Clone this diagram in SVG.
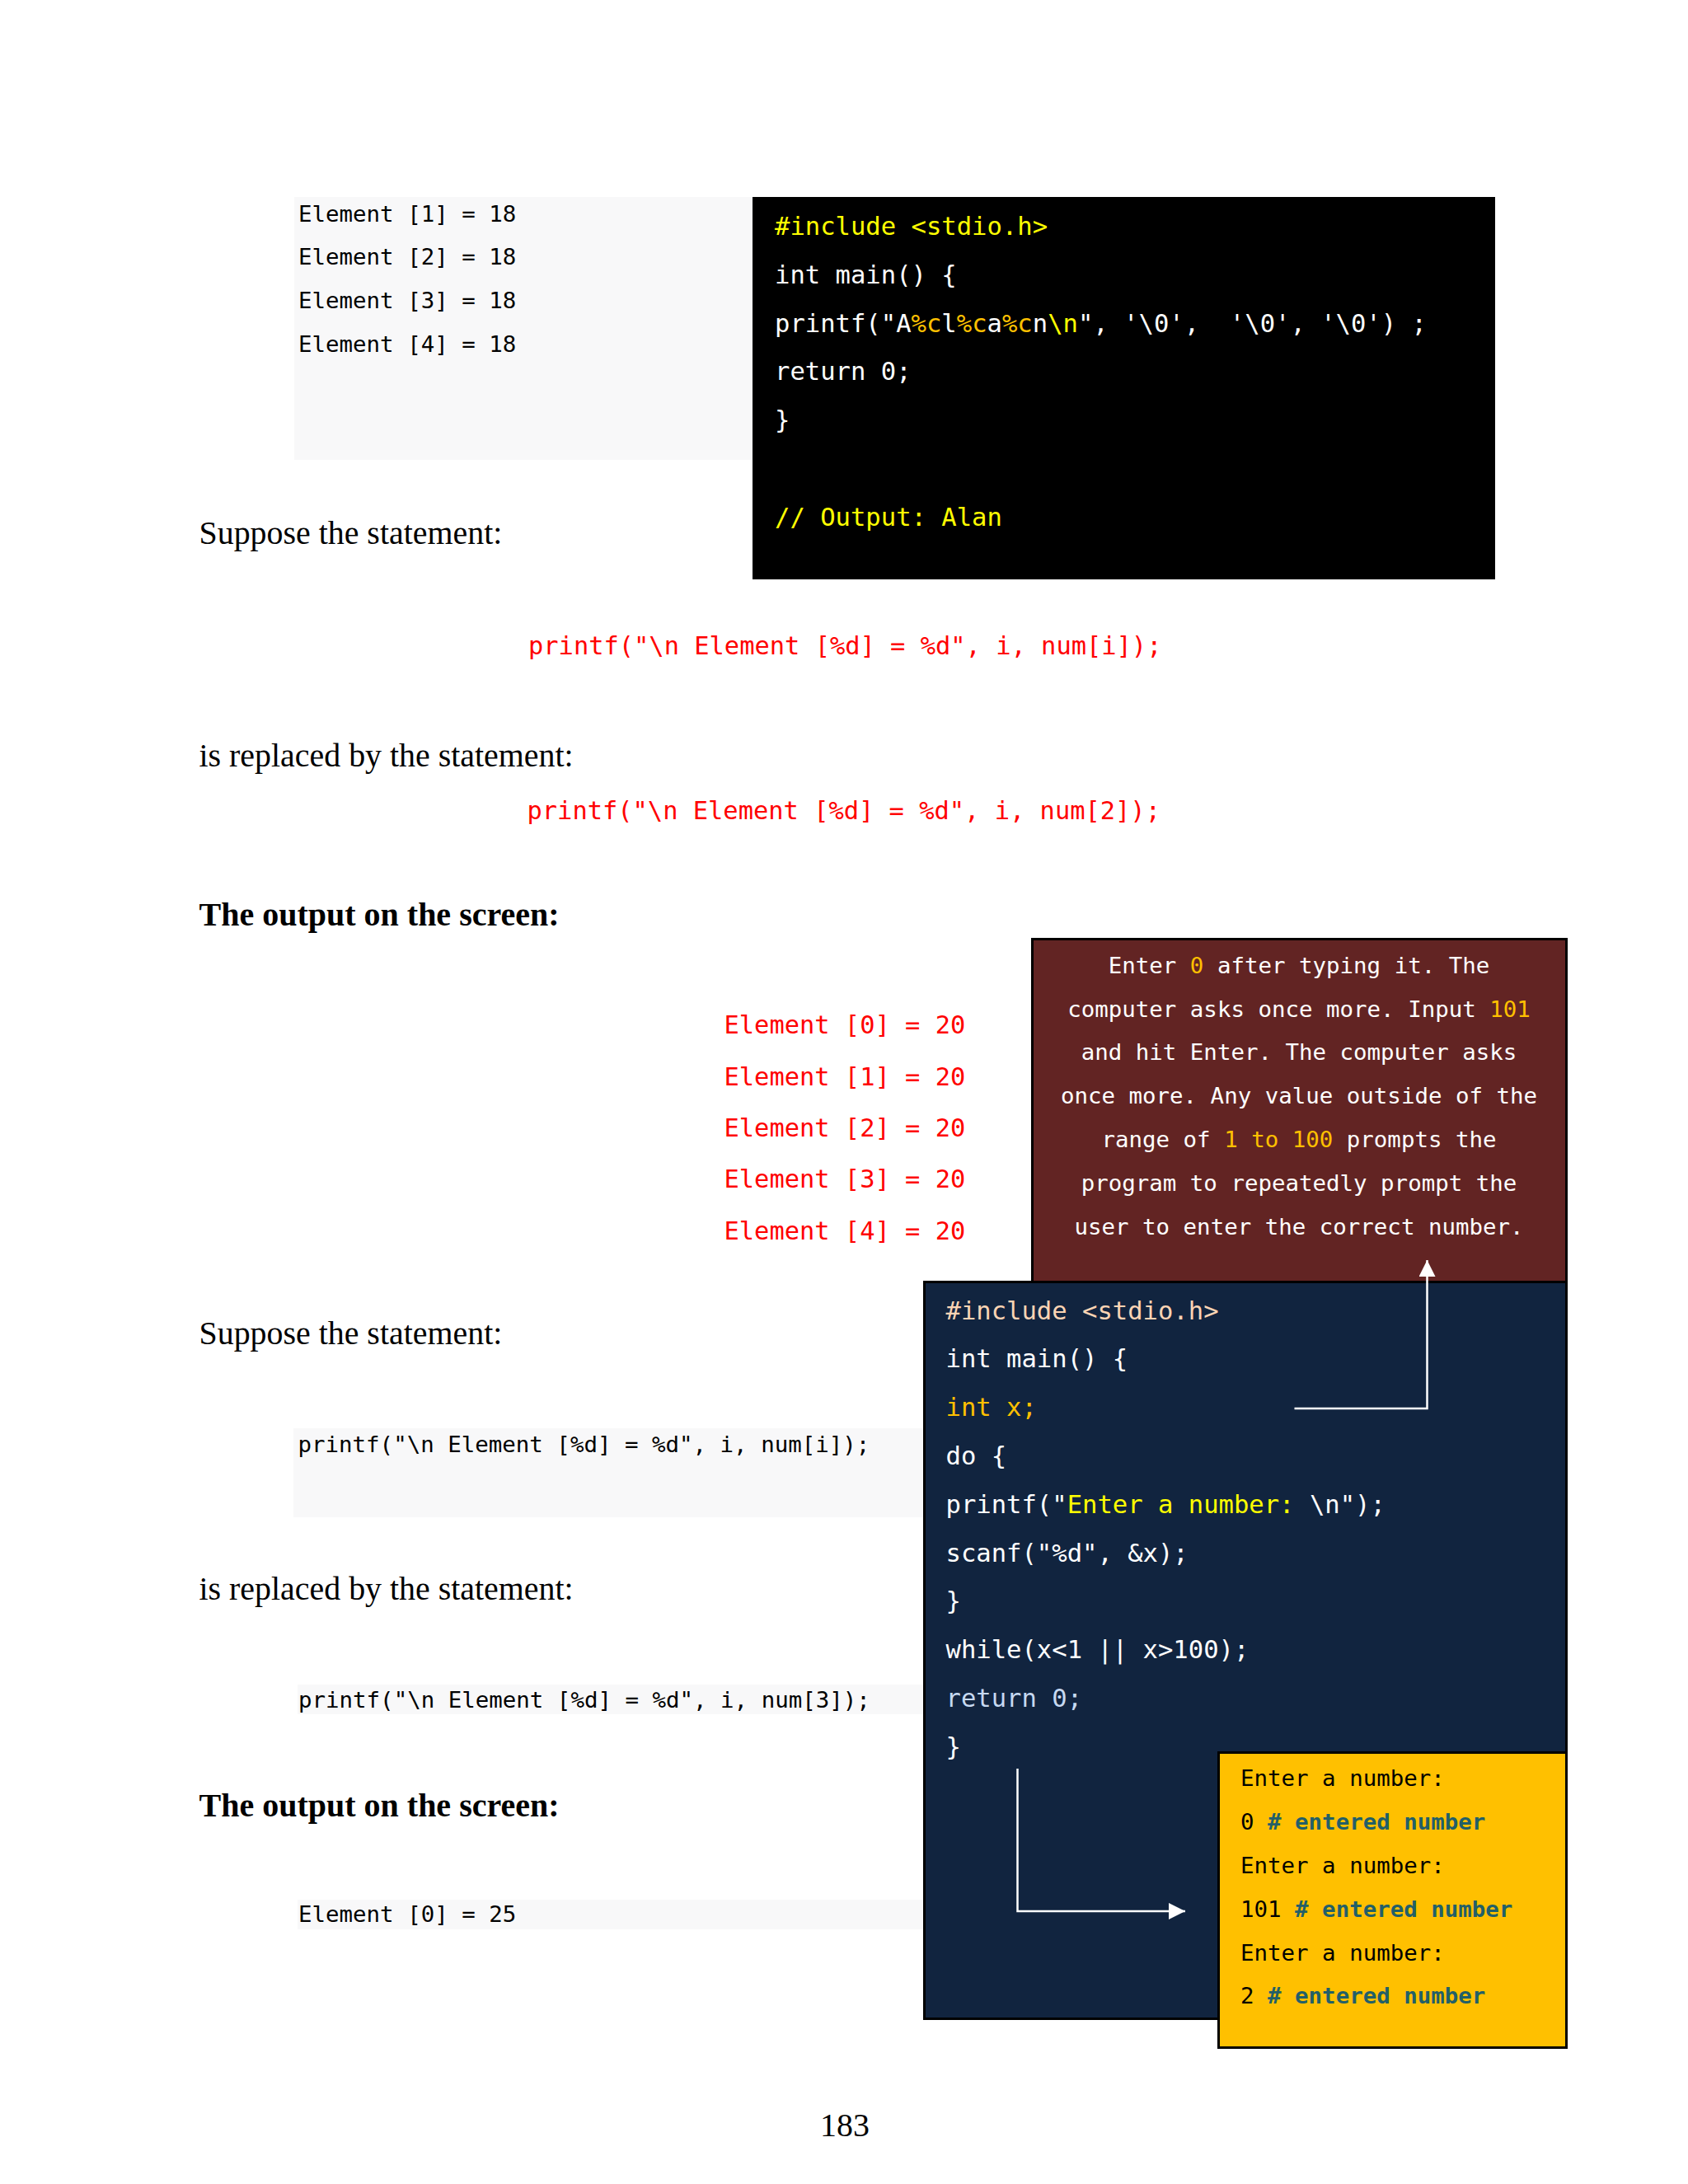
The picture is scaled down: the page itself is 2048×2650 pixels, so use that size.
<svg xmlns="http://www.w3.org/2000/svg" width="2048" height="2650" viewBox="0 0 2048 2650">
<style>
text{white-space:pre}
.s{font-family:"Liberation Serif","Times New Roman",serif;font-size:39.9px;fill:#000}
.b{font-weight:bold;font-size:40px}
.m{font-family:"DejaVu Sans Mono","Liberation Mono",monospace;font-size:27.45px}
.l{font-family:"DejaVu Sans Mono","Liberation Mono",monospace;font-size:30.4px}
.n{font-size:30.55px}
.k{fill:#000}.w{fill:#fff}.y{fill:#ff0}.o{fill:#ffc000}.r{fill:#f00}.p{fill:#fbd4b4}.c{fill:#c6d9f1}.t{fill:#235f68;font-weight:bold}
.g{fill:#f8f8f9}
.box{stroke:#000;stroke-width:3}
.a{fill:none;stroke:#fff;stroke-width:2.5}
</style>
<defs>
<marker id="ah" markerUnits="userSpaceOnUse" markerWidth="20" markerHeight="20" refX="20" refY="10" orient="auto"><path d="M0 0L20 10L0 20Z" fill="#fff"/></marker>
</defs>
<rect width="2048" height="2650" fill="#fff"/>
<g id="output-18">
<rect class="g" x="357" y="239" width="556" height="319"/>
<text class="m k" x="362" y="269">Element [1] = 18</text>
<text class="m k" x="362" y="321">Element [2] = 18</text>
<text class="m k" x="362" y="374">Element [3] = 18</text>
<text class="m k" x="362" y="427">Element [4] = 18</text>
</g>
<g id="code-alan">
<rect x="913" y="239" width="901" height="464" fill="#000"/>
<text class="l n y" x="940" y="285">#include &lt;stdio.h&gt;</text>
<text class="l n w" x="940" y="344">int main() {</text>
<text class="l n w" x="940" y="403">printf("A<tspan class="o">%c</tspan>l<tspan class="o">%c</tspan>a<tspan class="o">%c</tspan>n<tspan class="y">\n</tspan>", '\0',  '\0', '\0') ;</text>
<text class="l n w" x="940" y="461">return 0;</text>
<text class="l n w" x="940" y="520">}</text>
<text class="l n y" x="940" y="638">// Output: Alan</text>
</g>
<g id="text-1">
<text class="s" x="241.5" y="660">Suppose the statement:</text>
<text class="l r" x="641" y="794">printf("\n Element [%d] = %d", i, num[i]);</text>
<text class="s" x="241.5" y="930">is replaced by the statement:</text>
<text class="l r" x="639.5" y="994">printf("\n Element [%d] = %d", i, num[2]);</text>
<text class="s b" x="241.5" y="1123">The output on the screen:</text>
</g>
<g id="output-20">
<text class="l r" x="878.5" y="1254">Element [0] = 20</text>
<text class="l r" x="878.5" y="1317">Element [1] = 20</text>
<text class="l r" x="878.5" y="1379">Element [2] = 20</text>
<text class="l r" x="878.5" y="1441">Element [3] = 20</text>
<text class="l r" x="878.5" y="1504">Element [4] = 20</text>
</g>
<g id="text-2">
<text class="s" x="241.5" y="1631">Suppose the statement:</text>
<rect class="g" x="356" y="1733" width="765" height="108"/>
<text class="m k" x="361.5" y="1762">printf("\n Element [%d] = %d", i, num[i]);</text>
<text class="s" x="241.5" y="1941">is replaced by the statement:</text>
<rect class="g" x="361" y="2044" width="760" height="36"/>
<text class="m k" x="362" y="2072">printf("\n Element [%d] = %d", i, num[3]);</text>
<text class="s b" x="241.5" y="2204">The output on the screen:</text>
<rect class="g" x="361" y="2305" width="760" height="36"/>
<text class="m k" x="362" y="2332">Element [0] = 25</text>
<text class="s" x="995" y="2592">183</text>
</g>
<g id="note">
<rect class="box" x="1252.5" y="1139.5" width="648" height="416" fill="#622423"/>
<g text-anchor="middle">
<text class="m w" x="1576" y="1181">Enter <tspan class="o">0</tspan> after typing it. The</text>
<text class="m w" x="1576" y="1234">computer asks once more. Input <tspan class="o">101</tspan></text>
<text class="m w" x="1576" y="1286">and hit Enter. The computer asks</text>
<text class="m w" x="1576" y="1339">once more. Any value outside of the</text>
<text class="m w" x="1576" y="1392">range of <tspan class="o">1 to 100</tspan> prompts the</text>
<text class="m w" x="1576" y="1445">program to repeatedly prompt the</text>
<text class="m w" x="1576" y="1498">user to enter the correct number.</text>
</g>
</g>
<g id="code-loop">
<rect class="box" x="1121.5" y="1555.5" width="779" height="894" fill="#11243f"/>
<text class="l n p" x="1147.5" y="1601">#include &lt;stdio.h&gt;</text>
<text class="l n w" x="1147.5" y="1659">int main() {</text>
<text class="l n o" x="1147.5" y="1718">int x;</text>
<text class="l n w" x="1147.5" y="1777">do {</text>
<text class="l n w" x="1147.5" y="1836">printf("<tspan class="y">Enter a number: </tspan>\n");</text>
<text class="l n w" x="1147.5" y="1895">scanf("%d", &amp;x);</text>
<text class="l n w" x="1147.5" y="1953">}</text>
<text class="l n w" x="1147.5" y="2012">while(x&lt;1 || x&gt;100);</text>
<text class="l n c" x="1147.5" y="2071">return 0;</text>
<text class="l n w" x="1147.5" y="2130">}</text>
</g>
<g id="run">
<rect class="box" x="1478.5" y="2126.5" width="422" height="358" fill="#ffc000"/>
<text class="m k" x="1505" y="2167">Enter a number:</text>
<text class="m k" x="1505" y="2220">0 <tspan class="t"># entered number</tspan></text>
<text class="m k" x="1505" y="2273">Enter a number:</text>
<text class="m k" x="1505" y="2326">101 <tspan class="t"># entered number</tspan></text>
<text class="m k" x="1505" y="2379">Enter a number:</text>
<text class="m k" x="1505" y="2431">2 <tspan class="t"># entered number</tspan></text>
</g>
<g id="connectors">
<path class="a" d="M1570.5 1709H1731.5V1529" marker-end="url(#ah)"/>
<path class="a" d="M1234.5 2146V2319H1438" marker-end="url(#ah)"/>
</g>
</svg>
